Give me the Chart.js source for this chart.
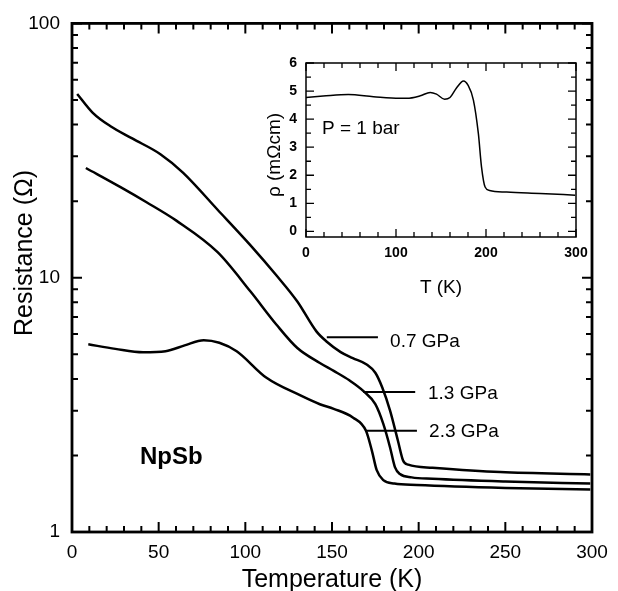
<!DOCTYPE html>
<html>
<head>
<meta charset="utf-8">
<script src="https://cdn.jsdelivr.net/npm/chart.js@4.4.0/dist/chart.umd.min.js"></script>
<style>
  html, body { margin: 0; padding: 0; background: #fff; }
  #wrap { position: relative; width: 618px; height: 591px; }
  #mainBox { position: absolute; left: 0; top: 0; width: 618px; height: 591px; }
  #insetBox { position: absolute; left: 250px; top: 45px; width: 360px; height: 260px; }
</style>
</head>
<body>
<div id="wrap">
  <div id="mainBox"><canvas id="main"></canvas></div>
  <div id="insetBox"><canvas id="inset"></canvas></div>
</div>
<script>
// Resistance vs temperature at three pressures (main panel)
const temp07 = [3, 12, 22, 35, 51, 64, 84, 103, 118, 130, 141, 147, 155, 162, 170, 175, 179, 183.5, 188, 191, 194, 208, 247, 299];
const res07 = [52.8, 44.5, 39.5, 35.2, 30.6, 25.9, 18.5, 13.4, 10.2, 8.06, 6.15, 5.6, 5.1, 4.83, 4.56, 4.23, 3.7, 3.0, 2.29, 1.91, 1.84, 1.79, 1.72, 1.685];

const temp13 = [8, 28, 43, 60, 84, 103, 118, 130, 143, 151, 160, 168, 175, 179.6, 183.5, 186.3, 189.2, 196, 208, 250, 299];
const res13 = [27.0, 22.7, 19.8, 16.8, 12.6, 8.82, 6.53, 5.29, 4.62, 4.3, 3.95, 3.59, 3.18, 2.66, 2.15, 1.8, 1.69, 1.64, 1.62, 1.58, 1.55];

const temp23 = [9.4, 25, 41, 54, 65, 76, 85, 95, 112, 131.5, 143, 151, 162, 169.6, 173, 175.8, 179.6, 186, 199, 250, 299];
const res23 = [5.47, 5.25, 5.09, 5.14, 5.42, 5.68, 5.55, 5.14, 4.05, 3.45, 3.18, 3.05, 2.82, 2.5, 2.09, 1.75, 1.6, 1.55, 1.53, 1.49, 1.47];

// Ambient-pressure resistivity (inset)
const tempInset = [0, 19, 47, 75, 104, 112, 127, 138, 145, 154, 160, 167, 175, 180, 186, 191.5, 195, 199, 204, 223, 260, 299];
const rhoInset = [4.77, 4.82, 4.88, 4.8, 4.74, 4.74, 4.83, 4.95, 4.89, 4.71, 4.77, 5.1, 5.36, 5.21, 4.68, 3.49, 2.3, 1.58, 1.46, 1.4, 1.35, 1.29];

// Tick labels
const xTicks = [0, 50, 100, 150, 200, 250, 300];
const yTicks = [1, 10, 100];
const insetXTicks = [0, 100, 200, 300];
const insetYTicks = [0, 1, 2, 3, 4, 5, 6];

const FONT = "'Liberation Sans', Arial, Helvetica, sans-serif";
Chart.defaults.font.family = FONT;
Chart.defaults.color = '#000';

const pts = (xs, ys) => xs.map((x, i) => ({ x: x, y: ys[i] }));

function curve(xs, ys, width) {
    return {
        data: pts(xs, ys),
        borderColor: '#000',
        borderWidth: width,
        pointRadius: 0,
        fill: false,
        cubicInterpolationMode: 'monotone'
    };
}

// Box around the plot area with inward ticks on all four sides
const framePlugin = {
    id: 'frame',
    afterDraw(chart, args, o) {
        const { ctx, chartArea: a } = chart;
        const x = chart.scales.x, y = chart.scales.y;
        ctx.save();
        ctx.strokeStyle = '#000';
        ctx.lineWidth = o.width;
        ctx.strokeRect(a.left, a.top, a.right - a.left, a.bottom - a.top);
        ctx.lineWidth = o.tickWidth;
        ctx.beginPath();
        o.xAll.forEach(v => {
            const px = x.getPixelForValue(v);
            const len = o.xMajor.includes(v) ? o.major : o.minor;
            ctx.moveTo(px, a.bottom); ctx.lineTo(px, a.bottom - len);
            ctx.moveTo(px, a.top); ctx.lineTo(px, a.top + len);
        });
        o.yAll.forEach(v => {
            const py = y.getPixelForValue(v);
            const len = o.yMajor.includes(v) ? o.major : o.minor;
            ctx.moveTo(a.left, py); ctx.lineTo(a.left + len, py);
            ctx.moveTo(a.right, py); ctx.lineTo(a.right - len, py);
        });
        ctx.stroke();
        ctx.restore();
    }
};

// Free text, leader lines and the rotated y title
const notesPlugin = {
    id: 'notes',
    afterDraw(chart, args, o) {
        const { ctx } = chart;
        const x = chart.scales.x, y = chart.scales.y;
        ctx.save();
        ctx.fillStyle = '#000';
        ctx.strokeStyle = '#000';
        (o.leaders || []).forEach(l => {
            ctx.lineWidth = l.width;
            ctx.beginPath();
            ctx.moveTo(x.getPixelForValue(l.x1), y.getPixelForValue(l.y));
            ctx.lineTo(x.getPixelForValue(l.x2), y.getPixelForValue(l.y));
            ctx.stroke();
        });
        ctx.textBaseline = 'middle';
        ctx.textAlign = 'left';
        (o.texts || []).forEach(t => {
            ctx.font = t.font;
            ctx.fillText(t.text, x.getPixelForValue(t.x), y.getPixelForValue(t.y));
        });
        if (o.yTitle) {
            const t = o.yTitle;
            ctx.font = t.font;
            ctx.textAlign = 'center';
            ctx.translate(t.px, t.py);
            ctx.rotate(-Math.PI / 2);
            ctx.fillText(t.text, 0, 0);
        }
        ctx.restore();
    }
};

function range(from, to, step) {
    const out = [];
    for (let v = from; v <= to + 1e-9; v += step) out.push(Math.round(v * 100) / 100);
    return out;
}

const logMinor = [];
[1, 10].forEach(d => { for (let k = 1; k < 10; k++) logMinor.push(k * d); });
logMinor.push(100);

new Chart(document.getElementById('main'), {
    type: 'line',
    data: {
        datasets: [curve(temp07, res07, 2.5), curve(temp13, res13, 2.5), curve(temp23, res23, 2.5)]
    },
    options: {
        responsive: true,
        maintainAspectRatio: false,
        animation: false,
        layout: { padding: { left: 0, right: 26, top: 20, bottom: 0 } },
        plugins: {
            legend: { display: false },
            tooltip: { enabled: false },
            frame: {
                width: 2.8, tickWidth: 2, major: 10, minor: 6,
                xAll: range(0, 300, 10), xMajor: xTicks,
                yAll: logMinor, yMajor: yTicks
            },
            notes: {
                leaders: [
                    { x1: 147, x2: 176.5, y: 5.83, width: 2 },
                    { x1: 168, x2: 198, y: 3.55, width: 2 },
                    { x1: 169.6, x2: 199, y: 2.5, width: 2 }
                ],
                texts: [
                    { text: '0.7 GPa', x: 183.5, y: 5.62, font: '19px ' + FONT },
                    { text: '1.3 GPa', x: 205.4, y: 3.5, font: '19px ' + FONT },
                    { text: '2.3 GPa', x: 206, y: 2.47, font: '19px ' + FONT },
                    { text: 'NpSb', x: 39.2, y: 1.96, font: 'bold 24px ' + FONT }
                ],
                yTitle: { text: 'Resistance (Ω)', px: 25, py: 253, font: '25px ' + FONT }
            }
        },
        scales: {
            x: {
                type: 'linear',
                min: 0, max: 300,
                afterBuildTicks: s => { s.ticks = xTicks.map(v => ({ value: v })); },
                afterFit: s => { s.height = 59; },
                grid: { display: false, drawTicks: false },
                border: { display: false },
                ticks: { font: { size: 19 }, padding: 9, maxRotation: 0 },
                title: {
                    display: true, text: 'Temperature (K)',
                    font: { size: 25, lineHeight: 1 },
                    padding: { top: 0, bottom: -2 }
                }
            },
            y: {
                type: 'logarithmic',
                min: 1, max: 100,
                afterBuildTicks: s => { s.ticks = yTicks.map(v => ({ value: v })); },
                afterFit: s => { s.width = 72; },
                grid: { display: false, drawTicks: false },
                border: { display: false },
                ticks: { font: { size: 19 }, padding: 12, callback: v => String(v) }
            }
        }
    },
    plugins: [framePlugin, notesPlugin]
});

new Chart(document.getElementById('inset'), {
    type: 'line',
    data: {
        datasets: [curve(tempInset, rhoInset, 1.5)]
    },
    options: {
        responsive: true,
        maintainAspectRatio: false,
        animation: false,
        layout: { padding: { left: 0, right: 34, top: 18, bottom: 0 } },
        plugins: {
            legend: { display: false },
            tooltip: { enabled: false },
            frame: {
                width: 1.5, tickWidth: 1.3, major: 8, minor: 5,
                xAll: range(0, 300, 20), xMajor: insetXTicks,
                yAll: range(0, 6, 0.5), yMajor: insetYTicks
            },
            notes: {
                texts: [
                    { text: 'P = 1 bar', x: 17.8, y: 3.64, font: '19px ' + FONT }
                ],
                yTitle: { text: 'ρ (mΩcm)', px: 25, py: 110, font: '19px ' + FONT }
            }
        },
        scales: {
            x: {
                type: 'linear',
                min: 0, max: 300,
                afterBuildTicks: s => { s.ticks = insetXTicks.map(v => ({ value: v })); },
                afterFit: s => { s.height = 68; },
                grid: { display: false, drawTicks: false },
                border: { display: false },
                ticks: { font: { size: 14, weight: 'bold' }, padding: 8, maxRotation: 0 },
                title: {
                    display: true, text: 'T (K)',
                    font: { size: 19, lineHeight: 1 },
                    padding: { top: 0, bottom: 8 }
                }
            },
            y: {
                type: 'linear',
                min: -0.2, max: 6,
                afterBuildTicks: s => { s.ticks = insetYTicks.map(v => ({ value: v })); },
                afterFit: s => { s.width = 56; },
                grid: { display: false, drawTicks: false },
                border: { display: false },
                ticks: { font: { size: 14, weight: 'bold' }, padding: 9 }
            }
        }
    },
    plugins: [framePlugin, notesPlugin]
});
</script>
</body>
</html>
